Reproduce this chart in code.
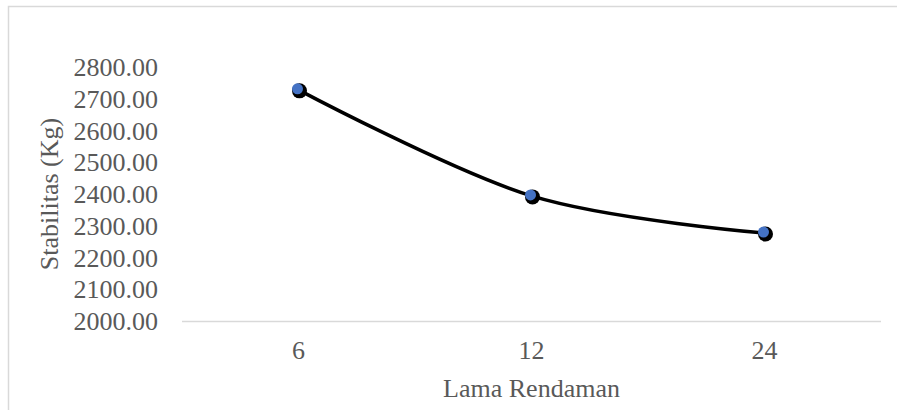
<!DOCTYPE html>
<html>
<head>
<meta charset="utf-8">
<script src="https://cdn.jsdelivr.net/npm/d3@7"></script>
<style>
  body { margin: 0; background: #fff; }
</style>
</head>
<body>
<div id="chart"></div>
<script>
// data
const categories = ["6", "12", "24"];
const stabilitas = [2728, 2394, 2277];
const yTicks = [2000, 2100, 2200, 2300, 2400, 2500, 2600, 2700, 2800];

const width = 897;
const height = 410;
const margin = { top: 67, right: 16, bottom: 89, left: 182 };
const fontFamily = "'Liberation Serif', 'Times New Roman', Times, serif";

const svg = d3
  .select("#chart")
  .append("svg")
  .attr("width", width)
  .attr("height", height)
  .attr("font-family", fontFamily);

// chart border (runs off the right/bottom edge like the source crop)
svg
  .append("rect")
  .attr("x", 8.5)
  .attr("y", 6.5)
  .attr("width", width + 20)
  .attr("height", height + 20)
  .attr("fill", "none")
  .attr("stroke", "#d9d9d9")
  .attr("stroke-width", 1.5);

const x = d3
  .scaleBand()
  .domain(categories)
  .range([margin.left, width - margin.right]);

const y = d3
  .scaleLinear()
  .domain([2000, 2800])
  .range([height - margin.bottom, margin.top]);

// x axis line
svg
  .append("line")
  .attr("x1", margin.left)
  .attr("x2", width - margin.right)
  .attr("y1", y(2000) + 0.5)
  .attr("y2", y(2000) + 0.5)
  .attr("stroke", "#d9d9d9")
  .attr("stroke-width", 1.5);

// y tick labels
svg
  .selectAll("text.ytick")
  .data(yTicks)
  .join("text")
  .attr("class", "ytick")
  .attr("x", 158)
  .attr("y", (d) => y(d))
  .attr("dy", "0.35em")
  .attr("text-anchor", "end")
  .attr("font-size", 26)
  .attr("fill", "#595959")
  .text((d) => d.toFixed(2));

// x tick labels
svg
  .selectAll("text.xtick")
  .data(categories)
  .join("text")
  .attr("class", "xtick")
  .attr("x", (d) => x(d) + x.bandwidth() / 2)
  .attr("y", 350)
  .attr("dy", "0.35em")
  .attr("text-anchor", "middle")
  .attr("font-size", 26)
  .attr("fill", "#595959")
  .text((d) => d);

// axis titles
svg
  .append("text")
  .attr("x", x(categories[1]) + x.bandwidth() / 2)
  .attr("y", 388)
  .attr("dy", "0.35em")
  .attr("text-anchor", "middle")
  .attr("font-size", 26)
  .attr("fill", "#595959")
  .text("Lama Rendaman");

svg
  .append("text")
  .attr("transform", `translate(58,${(y(2000) + y(2800)) / 2}) rotate(-90)`)
  .attr("text-anchor", "middle")
  .attr("font-size", 26)
  .attr("fill", "#595959")
  .text("Stabilitas (Kg)");

const points = categories.map((c, i) => ({
  cx: x(c) + x.bandwidth() / 2,
  cy: y(stabilitas[i]),
}));

// smoothed line
const line = d3
  .line()
  .x((d) => d.cx)
  .y((d) => d.cy)
  .curve(d3.curveCardinal.tension(0));

svg
  .append("path")
  .datum(points)
  .attr("d", line)
  .attr("fill", "none")
  .attr("stroke", "#000")
  .attr("stroke-width", 3.5);

// markers
svg
  .selectAll("circle.outer")
  .data(points)
  .join("circle")
  .attr("class", "outer")
  .attr("cx", (d) => d.cx + 1)
  .attr("cy", (d) => d.cy + 1)
  .attr("r", 7.5)
  .attr("fill", "#000");

svg
  .selectAll("circle.inner")
  .data(points)
  .join("circle")
  .attr("class", "inner")
  .attr("cx", (d) => d.cx - 1)
  .attr("cy", (d) => d.cy - 1)
  .attr("r", 5.5)
  .attr("fill", "#4472c4");
</script>
</body>
</html>
